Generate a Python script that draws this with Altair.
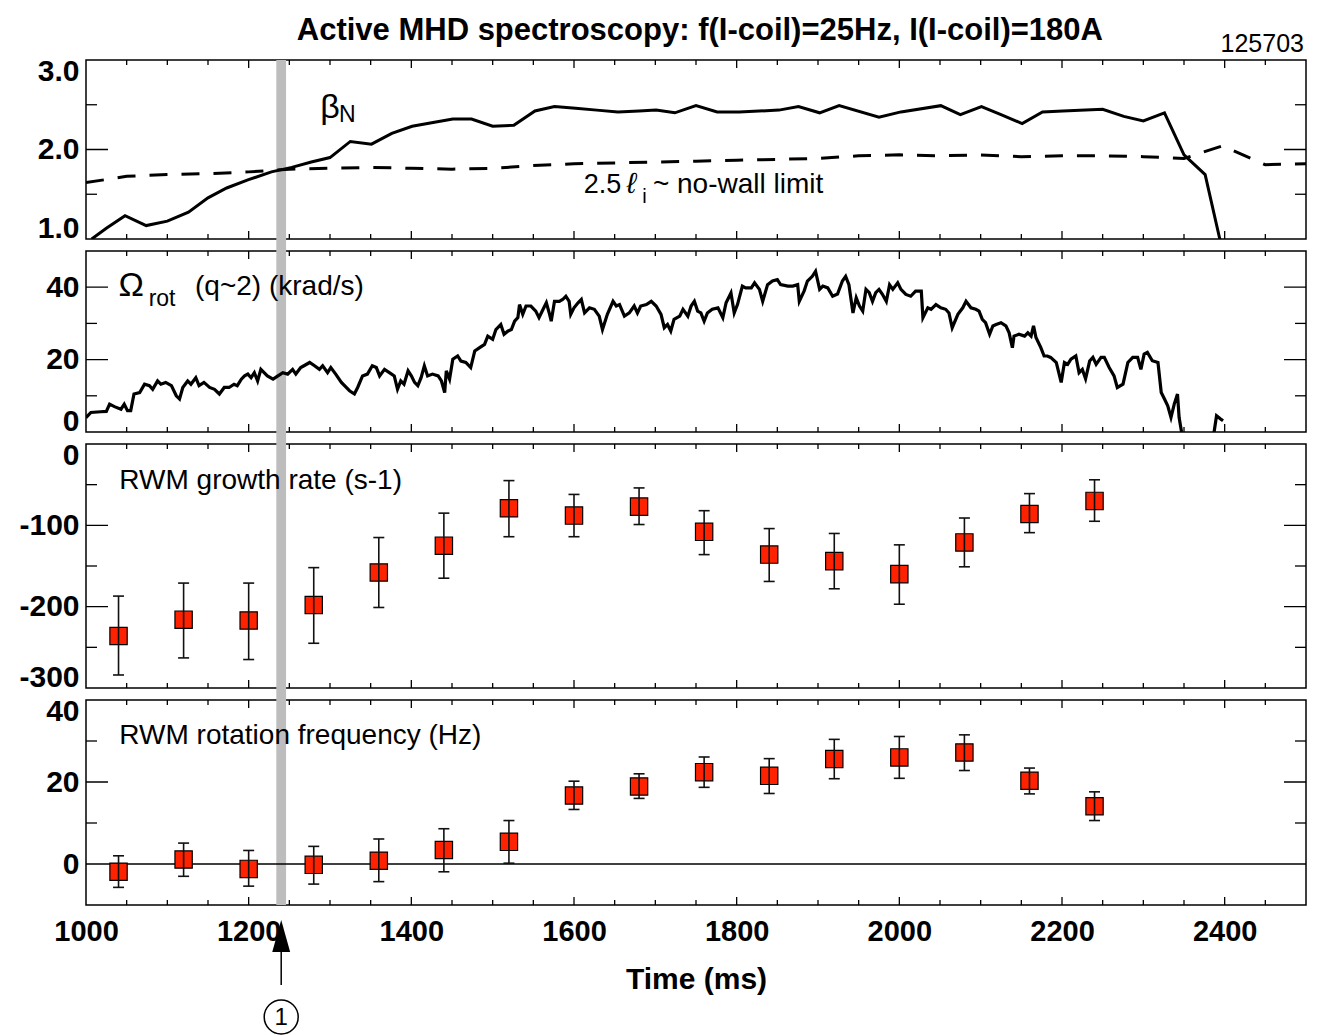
import altair as alt
import pandas as pd

FONT = "Liberation Sans"
W = 1220
H1, H2, H3, H4 = 179, 181, 244, 205
XDOM = [1000, 2500]

# ---------------- data ----------------
beta_t = [1007, 1025, 1048, 1074, 1100, 1126, 1150, 1173, 1199, 1228, 1253, 1277, 1300, 1325, 1351, 1376,
          1401, 1425, 1451, 1474, 1500, 1526, 1552, 1576, 1602, 1628, 1654, 1680, 1701, 1724, 1750, 1776,
          1803, 1852, 1876, 1902, 1926, 1975, 2002, 2051, 2075, 2101, 2125, 2151, 2176, 2201, 2250, 2276,
          2300, 2326, 2350, 2376, 2394, 2400]
beta_v = [1.00, 1.12, 1.26, 1.15, 1.20, 1.30, 1.46, 1.57, 1.66, 1.75, 1.80, 1.86, 1.91, 2.09, 2.06, 2.18,
          2.26, 2.30, 2.34, 2.34, 2.26, 2.27, 2.43, 2.48, 2.46, 2.44, 2.42, 2.43, 2.44, 2.41, 2.49, 2.42,
          2.42, 2.44, 2.48, 2.41, 2.49, 2.36, 2.42, 2.49, 2.39, 2.48, 2.39, 2.29, 2.42, 2.43, 2.45, 2.37,
          2.32, 2.41, 1.94, 1.72, 1.00, 0.80]

li_t = [1000, 1050, 1100, 1150, 1200, 1250, 1300, 1350, 1400, 1450, 1500, 1550, 1600, 1650, 1700, 1750,
        1800, 1850, 1900, 1950, 2000, 2050, 2100, 2150, 2200, 2250, 2300, 2350, 2397, 2450, 2500]
li_v = [1.63, 1.70, 1.72, 1.73, 1.75, 1.78, 1.79, 1.80, 1.79, 1.78, 1.79, 1.82, 1.84, 1.85, 1.86, 1.87,
        1.88, 1.89, 1.90, 1.93, 1.94, 1.93, 1.94, 1.92, 1.93, 1.93, 1.92, 1.90, 2.04, 1.83, 1.84]

om_t = [1000, 1006, 1018, 1025, 1029, 1035, 1043, 1047, 1051, 1055, 1059, 1066, 1072, 1078, 1082, 1088,
        1092, 1098, 1105, 1111, 1115, 1119, 1125, 1129, 1135, 1139, 1145, 1152, 1158, 1164, 1170, 1176,
        1182, 1186, 1191, 1195, 1199, 1203, 1207, 1211, 1215, 1219, 1223, 1230, 1236, 1242, 1248, 1254,
        1258, 1264, 1268, 1275, 1281, 1287, 1291, 1297, 1301, 1307, 1314, 1320, 1324, 1330, 1334, 1340,
        1346, 1352, 1357, 1361, 1367, 1373, 1379, 1383, 1387, 1391, 1396, 1400, 1404, 1408, 1412, 1416,
        1420, 1426, 1433, 1437, 1441, 1443, 1447, 1451, 1457, 1461, 1467, 1473, 1478, 1484, 1490, 1494,
        1500, 1504, 1510, 1514, 1519, 1523, 1527, 1531, 1533, 1537, 1541, 1547, 1553, 1557, 1562, 1566,
        1570, 1572, 1576, 1582, 1586, 1590, 1594, 1596, 1600, 1605, 1609, 1613, 1619, 1625, 1631, 1635,
        1641, 1648, 1652, 1656, 1662, 1668, 1674, 1678, 1682, 1689, 1695, 1701, 1707, 1711, 1715, 1719,
        1723, 1730, 1734, 1740, 1744, 1748, 1752, 1756, 1760, 1764, 1770, 1777, 1783, 1787, 1793, 1797,
        1801, 1807, 1811, 1818, 1822, 1828, 1832, 1838, 1844, 1850, 1854, 1863, 1869, 1875, 1877, 1883,
        1887, 1893, 1897, 1902, 1906, 1912, 1918, 1924, 1930, 1934, 1938, 1943, 1947, 1951, 1955, 1959,
        1963, 1967, 1971, 1975, 1979, 1984, 1988, 1992, 1998, 2002, 2008, 2014, 2020, 2027, 2029, 2035,
        2039, 2045, 2051, 2057, 2061, 2065, 2072, 2078, 2082, 2088, 2094, 2098, 2102, 2106, 2111, 2115,
        2119, 2125, 2131, 2135, 2139, 2141, 2147, 2154, 2158, 2162, 2165, 2168, 2174, 2178, 2182, 2186,
        2193, 2199, 2203, 2207, 2211, 2217, 2221, 2225, 2229, 2234, 2238, 2242, 2248, 2252, 2258, 2264,
        2268, 2275, 2281, 2287, 2293, 2297, 2301, 2305, 2311, 2318, 2322, 2326, 2330, 2334, 2338, 2342,
        2344, 2347, 2351, 2384, 2387, 2390, 2395, 2398]
om_v = [4.0, 5.4, 5.6, 5.7, 7.7, 7.0, 6.3, 7.7, 5.9, 5.9, 10.5, 10.9, 13.2, 12.8, 11.8, 14.1,
        13.2, 13.7, 12.8, 10.0, 9.1, 12.3, 14.1, 13.2, 15.0, 12.8, 13.7, 12.3, 11.8, 10.5, 12.3, 12.3,
        13.2, 12.8, 14.6, 15.5, 16.0, 15.0, 16.4, 14.1, 17.3, 16.4, 15.5, 14.6, 15.5, 16.4, 16.0, 17.3,
        16.0, 17.8, 18.3, 19.2, 18.3, 17.3, 18.3, 16.4, 17.8, 16.0, 13.7, 12.3, 11.4, 10.5, 12.3, 15.5,
        16.0, 18.3, 17.8, 15.5, 17.3, 16.4, 15.5, 11.8, 14.1, 13.2, 16.9, 15.5, 13.7, 12.8, 15.0, 18.3,
        15.5, 16.0, 15.5, 14.1, 10.9, 16.9, 14.6, 20.1, 21.0, 19.6, 19.2, 17.8, 22.4, 23.3, 24.2, 26.5,
        25.6, 28.3, 29.7, 27.0, 27.9, 28.3, 30.6, 31.6, 35.2, 32.5, 34.8, 34.8, 33.4, 31.6, 33.9, 35.7,
        32.5, 30.6, 36.1, 36.1, 36.6, 37.5, 36.1, 32.5, 34.3, 35.7, 36.6, 32.9, 34.3, 33.9, 32.0, 28.3,
        32.5, 36.1, 34.8, 35.2, 32.0, 32.9, 34.8, 32.9, 34.8, 35.2, 36.1, 34.8, 32.5, 28.8, 29.7, 27.9,
        31.1, 32.0, 33.9, 32.0, 34.8, 36.1, 33.4, 32.9, 30.6, 32.9, 33.9, 34.3, 31.6, 35.7, 38.4, 32.9,
        35.2, 40.3, 39.8, 39.8, 41.2, 39.4, 36.1, 40.7, 41.7, 42.1, 40.7, 40.3, 40.3, 40.7, 36.1, 39.0,
        41.7, 43.0, 44.4, 39.4, 40.3, 39.8, 37.5, 38.1, 41.7, 43.0, 40.7, 32.9, 37.1, 34.8, 33.4, 39.4,
        38.5, 36.1, 38.5, 39.4, 38.1, 36.1, 40.7, 39.4, 41.2, 39.4, 38.0, 37.5, 38.9, 38.9, 31.6, 34.3,
        33.9, 35.2, 34.3, 33.9, 32.9, 28.8, 32.5, 34.3, 36.1, 34.3, 33.9, 33.4, 31.1, 30.2, 27.0, 29.3,
        29.7, 30.2, 29.3, 27.4, 23.3, 26.5, 27.0, 26.5, 27.4, 26.5, 29.3, 26.1, 23.3, 21.0, 21.0, 20.6,
        19.2, 13.7, 19.2, 18.7, 20.1, 21.0, 16.4, 17.3, 14.7, 19.6, 20.6, 18.7, 20.6, 20.6, 17.8, 15.5,
        12.3, 13.2, 19.2, 20.6, 20.6, 17.3, 21.5, 22.0, 19.7, 19.2, 10.9, 9.1, 7.2, 4.0, 7.7, 10.5,
        4.0, 0.0, -4.0, -4.0, 0.0, 4.5, 3.6, 3.1]

pt_t = [1040, 1120, 1200, 1280, 1360, 1440, 1520, 1600, 1680, 1760, 1840, 1920, 2000, 2080, 2160, 2240]
gr_v = [-236, -216, -217, -198, -158, -125, -79, -88, -77, -108, -136, -144, -160, -121, -86, -70]
gr_hi = [-187, -171, -171, -152, -115, -85, -45, -62, -54, -82, -104, -110, -124, -91, -61, -44]
gr_lo = [-284, -263, -265, -245, -201, -165, -114, -114, -99, -136, -169, -178, -197, -151, -109, -95]
fr_v = [-1.9, 1.1, -1.2, -0.2, 0.8, 3.4, 5.4, 16.7, 18.9, 22.4, 21.5, 25.6, 26.0, 27.2, 20.3, 14.1]
fr_hi = [2.0, 5.1, 3.3, 4.3, 6.1, 8.6, 10.6, 20.2, 22.0, 26.1, 25.7, 30.4, 31.1, 31.5, 23.4, 17.6]
fr_lo = [-5.7, -3.0, -5.4, -4.9, -4.3, -1.9, 0.2, 13.3, 16.0, 18.7, 17.2, 20.8, 20.9, 22.8, 17.1, 10.6]

band_t0, band_t1 = [1234], [1246]
x_labels = [1000, 1200, 1400, 1600, 1800, 2000, 2200, 2400]
x_major = [1200, 1400, 1600, 1800, 2000, 2200, 2400]
x_minor = [1050, 1100, 1150, 1250, 1300, 1350, 1450, 1500, 1550, 1650, 1700, 1750, 1850, 1900, 1950,
           2050, 2100, 2150, 2250, 2300, 2350, 2450]

TITLE = "Active MHD spectroscopy: f(I-coil)=25Hz, I(I-coil)=180A"
SHOT = "125703"

# ---------------- helpers ----------------
def make_x(axis):
    def xe(field):
        if axis is None:
            return alt.X(f"{field}:Q", scale=alt.Scale(domain=XDOM, nice=False, zero=False), axis=None)
        return alt.X(f"{field}:Q", scale=alt.Scale(domain=XDOM, nice=False, zero=False), axis=axis,
                     title="Time (ms)")
    return xe


def make_y(dom, vals, fmt=None):
    kw = dict(values=vals, labelFontSize=30, labelFontWeight="bold", labelPadding=7, labelFlush=True,
              labelFlushOffset=4, ticks=False, domain=False, grid=False, title=None)
    if fmt:
        kw["format"] = fmt
    else:
        kw["labelExpr"] = "'' + datum.value"
    ax = alt.Axis(**kw)

    def ye(field):
        return alt.Y(f"{field}:Q", scale=alt.Scale(domain=dom, nice=False, zero=False), axis=ax, title=None)
    return ye


def frame_ticks(xe, ye, height, ymajor, yminor):
    lay = []
    for vals, ln in ((x_major, 8), (x_minor, 5)):
        df = pd.DataFrame({"t": vals})
        for yv in (0, height):
            lay.append(alt.Chart(df).mark_tick(orient="vertical", size=2 * ln, thickness=1.3,
                                               color="black", clip=True, opacity=1)
                       .encode(x=xe("t"), y=alt.value(yv)))
    for vals, ln in ((ymajor, 22), (yminor, 11)):
        df = pd.DataFrame({"v": vals})
        for xv in (0, W):
            lay.append(alt.Chart(df).mark_tick(orient="horizontal", size=2 * ln, thickness=1.3,
                                               color="black", clip=True, opacity=1)
                       .encode(y=ye("v"), x=alt.value(xv)))
    return lay


def band_layer(xe, y0, y1):
    df = pd.DataFrame({"t0": band_t0, "t1": band_t1})
    return alt.Chart(df).mark_rect(color="#bdbdbd", clip=False).encode(
        x=xe("t0"), x2=alt.X2("t1:Q"), y=alt.value(y0), y2=alt.value(y1))


def text_layer(t, v, txt, xe, ye, size, style="normal"):
    df = pd.DataFrame({"t": [t], "v": [v], "s": [txt]})
    return alt.Chart(df).mark_text(font=FONT, fontSize=size, align="left", baseline="middle",
                                   color="black", fontStyle=style).encode(x=xe("t"), y=ye("v"), text="s:N")


def points_layers(xe, ye, vals, lo, hi):
    df = pd.DataFrame({"t": pt_t, "v": vals, "lo": lo, "hi": hi})
    sq = alt.Chart(df).mark_square(size=300, fill="#ff2200", stroke="black", strokeWidth=1.2,
                                   opacity=1).encode(x=xe("t"), y=ye("v"))
    rule = alt.Chart(df).mark_rule(color="#111111", strokeWidth=1.6).encode(
        x=xe("t"), y=ye("lo"), y2=alt.Y2("hi:Q"))
    cap1 = alt.Chart(df).mark_tick(orient="horizontal", size=11, thickness=1.6, color="#111111",
                                   opacity=1).encode(x=xe("t"), y=ye("lo"))
    cap2 = alt.Chart(df).mark_tick(orient="horizontal", size=11, thickness=1.6, color="#111111",
                                   opacity=1).encode(x=xe("t"), y=ye("hi"))
    return [sq, rule, cap1, cap2]


# ---------------- panel 1: beta_N ----------------
xe0 = make_x(None)
ye1 = make_y([1.0, 3.0], [1.0, 2.0, 3.0], ".1f")
beta_df = pd.DataFrame({"t": beta_t, "v": beta_v})
li_df = pd.DataFrame({"t": li_t, "v": li_v})
shot_df = pd.DataFrame({"s": [SHOT]})
p1 = alt.layer(
    band_layer(xe0, 0, H1 + 6),
    alt.Chart(li_df).mark_line(color="black", strokeWidth=3, strokeDash=[18, 14], clip=True)
    .encode(x=xe0("t"), y=ye1("v")),
    alt.Chart(beta_df).mark_line(color="black", strokeWidth=3, clip=True).encode(x=xe0("t"), y=ye1("v")),
    text_layer(1288, 2.46, "β", xe0, ye1, 34),
    text_layer(1311, 2.38, "N", xe0, ye1, 23),
    text_layer(1612, 1.60, "2.5", xe0, ye1, 27),
    text_layer(1665, 1.61, "ℓ", xe0, ye1, 29, "italic"),
    text_layer(1684, 1.47, "i", xe0, ye1, 20),
    text_layer(1697, 1.60, "~ no-wall limit", xe0, ye1, 28),
    alt.Chart(shot_df).mark_text(font=FONT, fontSize=25, align="right", baseline="middle", color="black",
                                 dx=-2).encode(x=alt.value(W), y=alt.value(-16), text="s:N"),
    *frame_ticks(xe0, ye1, H1, [2.0], [1.5, 2.5]),
).properties(width=W, height=H1)

# ---------------- panel 2: Omega_rot ----------------
ye2 = make_y([0, 50], [0, 20, 40])
om_df = pd.DataFrame({"t": om_t, "v": om_v})
p2 = alt.layer(
    band_layer(xe0, -6, H2 + 6),
    alt.Chart(om_df).mark_line(color="black", strokeWidth=3.2, clip=True).encode(x=xe0("t"), y=ye2("v")),
    text_layer(1040, 40.3, "Ω", xe0, ye2, 34),
    text_layer(1077, 36.8, "rot", xe0, ye2, 23),
    text_layer(1134, 40.0, "(q~2) (krad/s)", xe0, ye2, 28),
    *frame_ticks(xe0, ye2, H2, [20, 40], [10, 30]),
).properties(width=W, height=H2)

# ---------------- panel 3: growth rate ----------------
ye3 = make_y([-300, 0], [-300, -200, -100, 0])
p3 = alt.layer(
    band_layer(xe0, -6, H3 + 6),
    *points_layers(xe0, ye3, gr_v, gr_lo, gr_hi),
    text_layer(1041, -46, "RWM growth rate (s-1)", xe0, ye3, 28),
    *frame_ticks(xe0, ye3, H3, [-100, -200], [-50, -150, -250]),
).properties(width=W, height=H3)

# ---------------- panel 4: rotation frequency ----------------
xax = alt.Axis(values=x_labels, format="d", labelFontSize=29, labelFontWeight="bold", labelPadding=12,
               labelFlush=False, ticks=False, domain=False, grid=False, titleFontSize=30,
               titleFontWeight="bold", titlePadding=18, titleColor="black", labelColor="black")
xe4 = make_x(xax)
ye4 = make_y([-10, 40], [0, 20, 40])
zero_df = pd.DataFrame({"v": [0]})
arrow_df = pd.DataFrame({"t": [1240], "s": ["1"]})
p4 = alt.layer(
    band_layer(xe4, -6, H4),
    alt.Chart(zero_df).mark_rule(color="black", strokeWidth=1.5).encode(y=ye4("v")),
    *points_layers(xe4, ye4, fr_v, fr_lo, fr_hi),
    text_layer(1041, 31.2, "RWM rotation frequency (Hz)", xe4, ye4, 28),
    alt.Chart(arrow_df).mark_point(shape="M0,-1L0.56,1L-0.56,1Z", size=1024, filled=True, color="black",
                                   opacity=1, clip=False).encode(x=xe4("t"), y=alt.value(H4 + 31)),
    alt.Chart(arrow_df).mark_rule(color="black", strokeWidth=1.5, clip=False).encode(
        x=xe4("t"), y=alt.value(H4 + 46), y2=alt.value(H4 + 80)),
    alt.Chart(arrow_df).mark_point(shape="circle", size=1156, filled=False, color="black", strokeWidth=1.5,
                                   opacity=1, clip=False).encode(x=xe4("t"), y=alt.value(H4 + 112)),
    alt.Chart(arrow_df).mark_text(font=FONT, fontSize=24, color="black", baseline="middle", align="center",
                                  clip=False).encode(x=xe4("t"), y=alt.value(H4 + 113), text="s:N"),
    *frame_ticks(xe4, ye4, H4, [20], [10, 30]),
).properties(width=W, height=H4)

chart = (
    alt.vconcat(p1, p2, p3, p4, spacing=-2)
    .properties(
        title=alt.TitleParams(TITLE, fontSize=31, font=FONT, fontWeight="bold", anchor="middle",
                              color="black", offset=-16, dx=37),
        padding={"left": 18, "top": 15, "right": 8, "bottom": 0},
    )
    .configure(font=FONT)
    .configure_view(stroke="black", strokeWidth=1.5)
    .configure_axis(labelFont=FONT, titleFont=FONT, labelColor="black", titleColor="black")
)

chart.save("out.html", embed_options={"renderer": "svg", "actions": False})
